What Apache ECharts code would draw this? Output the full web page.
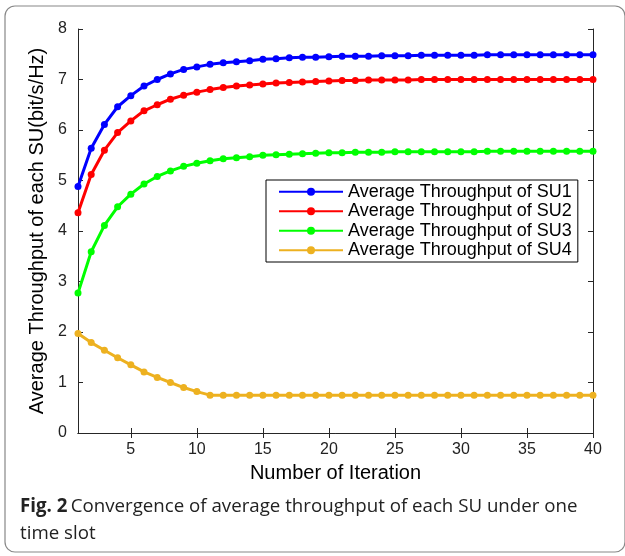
<!DOCTYPE html>
<html>
<head>
    <meta charset="utf-8">
    <title>Convergence</title>
    <script src="https://cdn.jsdelivr.net/npm/echarts@6/dist/echarts.min.js"></script>
    <style>
        html, body { margin: 0; padding: 0; background: #fff; }
    </style>
</head>
<body>
<div id="main" style="width:625px;height:556px;"></div>
<script type="text/javascript">
    // iterations 1..40
    var iterations = [];
    for (var i = 1; i <= 40; i++) iterations.push(i);

    var su1 = [4.88, 5.64, 6.11, 6.46, 6.68, 6.87, 7.00, 7.11, 7.20, 7.25,
               7.30, 7.33, 7.35, 7.37, 7.40, 7.41, 7.43, 7.44, 7.44, 7.45,
               7.46, 7.46, 7.46, 7.47, 7.47, 7.47, 7.48, 7.48, 7.48, 7.48,
               7.48, 7.49, 7.49, 7.49, 7.49, 7.49, 7.49, 7.49, 7.49, 7.49];
    var su2 = [4.36, 5.12, 5.60, 5.95, 6.18, 6.38, 6.50, 6.61, 6.69, 6.75,
               6.80, 6.84, 6.87, 6.89, 6.91, 6.93, 6.94, 6.95, 6.96, 6.97,
               6.98, 6.98, 6.99, 6.99, 6.99, 6.99, 7.00, 7.00, 7.00, 7.00,
               7.00, 7.00, 7.00, 7.00, 7.00, 7.00, 7.00, 7.00, 7.00, 7.00];
    var su3 = [2.77, 3.59, 4.11, 4.48, 4.73, 4.93, 5.08, 5.19, 5.28, 5.34,
               5.39, 5.43, 5.45, 5.47, 5.50, 5.51, 5.52, 5.53, 5.54, 5.55,
               5.55, 5.56, 5.56, 5.56, 5.57, 5.57, 5.57, 5.57, 5.57, 5.57,
               5.57, 5.58, 5.58, 5.58, 5.58, 5.58, 5.58, 5.58, 5.58, 5.58];
    var su4 = [1.97, 1.79, 1.64, 1.49, 1.35, 1.21, 1.10, 1.00, 0.90, 0.82,
               0.75, 0.75, 0.75, 0.75, 0.75, 0.75, 0.75, 0.75, 0.75, 0.75,
               0.75, 0.75, 0.75, 0.75, 0.75, 0.75, 0.75, 0.75, 0.75, 0.75,
               0.75, 0.75, 0.75, 0.75, 0.75, 0.75, 0.75, 0.75, 0.75, 0.75];

    var names = ['Average Throughput of SU1', 'Average Throughput of SU2',
                 'Average Throughput of SU3', 'Average Throughput of SU4'];
    var colors = ['#0000ff', '#ff0000', '#00ff00', '#edb120'];
    var xTicks = [5, 10, 15, 20, 25, 30, 35, 40];

    var font = '"Liberation Sans", Arial, sans-serif';
    var axisColor = '#262626';

    function pairs(vals) {
        return vals.map(function (v, k) { return [iterations[k], v]; });
    }

    var series = [su1, su2, su3, su4].map(function (vals, k) {
        return {
            name: names[k],
            type: 'line',
            data: pairs(vals),
            symbol: 'circle',
            symbolSize: 7,
            showAllSymbol: true,
            color: colors[k],
            lineStyle: { width: 3 },
            animation: false
        };
    });

    var myChart = echarts.init(document.getElementById('main'));
    myChart.setOption({
        backgroundColor: '#fff',
        grid: { left: 78, right: 32, top: 29, bottom: 123 },
        legend: {
            orient: 'vertical',
            left: 266,
            top: 180,
            data: names,
            itemWidth: 64,
            itemHeight: 10,
            itemGap: 0,
            padding: [2, 6, 2, 12],
            borderColor: '#000',
            borderWidth: 1,
            backgroundColor: '#fff',
            textStyle: { fontFamily: font, fontSize: 18, lineHeight: 19.5, color: '#000' }
        },
        xAxis: [{
            type: 'value',
            min: 1, max: 40,
            name: 'Number of Iteration',
            nameLocation: 'middle',
            nameGap: 30,
            nameTextStyle: { fontFamily: font, fontSize: 20, color: '#000' },
            axisLine: { lineStyle: { color: axisColor } },
            axisTick: { inside: true, length: 5, customValues: xTicks, lineStyle: { color: axisColor } },
            axisLabel: { customValues: xTicks, fontFamily: font, fontSize: 16, color: '#222', margin: 9 },
            splitLine: { show: false }
        }, {
            type: 'value',
            position: 'top',
            min: 1, max: 40,
            axisLine: { lineStyle: { color: axisColor } },
            axisTick: { inside: true, length: 5, customValues: xTicks, lineStyle: { color: axisColor } },
            axisLabel: { show: false },
            splitLine: { show: false }
        }],
        yAxis: [{
            type: 'value',
            min: 0, max: 8, interval: 1,
            name: 'Average Throughput of each SU(bit/s/Hz)',
            nameLocation: 'middle',
            nameGap: 25,
            nameTextStyle: { fontFamily: font, fontSize: 20, color: '#000' },
            axisLine: { show: true, lineStyle: { color: axisColor } },
            axisTick: { show: true, inside: true, length: 5, lineStyle: { color: axisColor } },
            axisLabel: { fontFamily: font, fontSize: 16, color: '#222', margin: 11 },
            splitLine: { show: false }
        }, {
            type: 'value',
            position: 'right',
            min: 0, max: 8, interval: 1,
            axisLine: { show: true, lineStyle: { color: axisColor } },
            axisTick: { show: true, inside: true, length: 5, lineStyle: { color: axisColor } },
            axisLabel: { show: false },
            splitLine: { show: false }
        }],
        graphic: [{
            type: 'rect',
            shape: { x: 5, y: 6, width: 620, height: 546, r: 10 },
            style: { fill: 'none', stroke: '#888', lineWidth: 1.2 },
            z: -1
        }, {
            type: 'text',
            left: 20,
            top: 493,
            style: {
                rich: {
                    b: { fontFamily: '"Open Sans", sans-serif', fontSize: 18.7, fontWeight: 'bold', fill: '#222' },
                    n: { fontFamily: '"Open Sans", sans-serif', fontSize: 18.7, fill: '#222' }
                },
                text: '{b|Fig. 2} {n|Convergence of average throughput of each SU under one}\n{n|time slot}',
                lineHeight: 27
            }
        }],
        series: series
    });
</script>
</body>
</html>
